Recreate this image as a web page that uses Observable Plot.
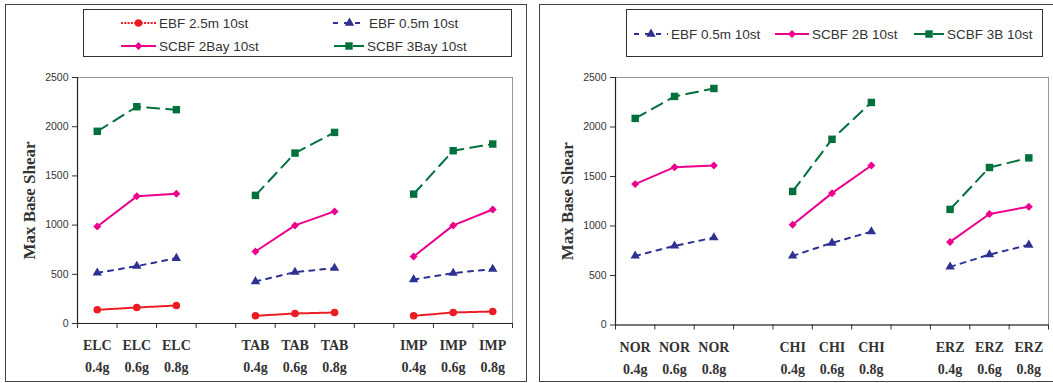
<!DOCTYPE html>
<html><head><meta charset="utf-8">
<script src="https://cdn.jsdelivr.net/npm/d3@7"></script>
<script src="https://cdn.jsdelivr.net/npm/@observablehq/plot@0.6"></script>
<style>
html,body{margin:0;padding:0;background:#fff;}
body{width:1053px;height:383px;overflow:hidden;position:relative;font-family:"Liberation Sans",Arial,sans-serif;}
.chart{position:absolute;top:0;}
.panel{position:absolute;border:1.5px solid #444;box-sizing:border-box;pointer-events:none;z-index:5;}
.legend{position:absolute;border:1px solid #333;box-sizing:border-box;background:#fff;z-index:6;}
.item{position:absolute;height:16px;display:flex;align-items:center;white-space:nowrap;font-size:13.5px;color:#333;}
.item svg{display:block;overflow:visible;}
.item span{margin-left:3px;}
g[aria-label="ylabel"] text{letter-spacing:0.7px;}
</style></head><body>
<div id="leftChart" class="chart" style="left:0"></div>
<div id="rightChart" class="chart" style="left:530px"></div>
<div class="panel" style="left:5px;top:4px;width:522px;height:378px"></div>
<div class="panel" style="left:539px;top:4px;width:530px;height:378px"></div>
<script>
// ---- data ----
const leftEvents = ["ELC", "TAB", "IMP"];
const rightEvents = ["NOR", "CHI", "ERZ"];
const pgaLevels = ["0.4g", "0.6g", "0.8g"];
const yTicks = [0, 500, 1000, 1500, 2000, 2500];

const leftEBF25 = [139, 163, 183, 78, 102, 112, 78, 112, 122];
const leftEBF05 = [515, 583, 664, 427, 522, 563, 447, 512, 553];
const leftSCBF2 = [986, 1292, 1319, 732, 997, 1139, 681, 997, 1159];
const leftSCBF3 = [1953, 2203, 2173, 1302, 1732, 1942, 1315, 1756, 1824];

const rightEBF05 = [698, 799, 883, 698, 829, 943, 587, 711, 809];
const rightSCBF2 = [1423, 1594, 1611, 1013, 1332, 1611, 839, 1121, 1195];
const rightSCBF3 = [2087, 2309, 2389, 1349, 1876, 2248, 1168, 1591, 1688];

const leftNames = ["EBF 2.5m 10st", "EBF 0.5m 10st", "SCBF 2Bay 10st", "SCBF 3Bay 10st"];
const rightNames = ["EBF 0.5m 10st", "SCBF 2B 10st", "SCBF 3B 10st"];

// ---- styles ----
const styles = {
  ebf25: {color: "#ED1C24", dash: "2,1.3", symbol: "circle", r: 3.8},
  ebf05: {color: "#2E3192", dash: "5,6", symbol: "triangle", r: 3.5},
  scbf2: {color: "#EC008C", dash: null, symbol: "diamond2", r: 3.6},
  scbf3: {color: "#00703C", dash: "12,7", symbol: "square", r: 4.2}
};
const serif = "'Liberation Serif','Times New Roman',serif";
const sans = "'Liberation Sans',Arial,sans-serif";

function rowsFor(values, events) {
  return values.map((v, i) => {
    const g = Math.floor(i / 3), j = i % 3;
    return {event: events[g], pga: pgaLevels[j], slot: g * 4 + j + 0.5, value: v};
  });
}

function panel({events, series, width, marginLeft, marginRight, marginBottom}) {
  const slots = d3.range(9).map(i => Math.floor(i / 3) * 4 + (i % 3) + 0.5);
  const marks = [
    Plot.frame({stroke: "#999", strokeWidth: 1}),
    Plot.axisY({ticks: yTicks, tickSize: 5, tickPadding: 4, fontSize: 10.5, fontFamily: sans, label: null, tickFormat: d => String(d)}),
    Plot.axisX({ticks: d3.range(12), tickSize: 5, tickFormat: () => "", label: null}),
    Plot.axisX({ticks: slots, tickSize: 0, tickPadding: 17, label: null,
      tickFormat: d => events[Math.floor(d / 4)], fontWeight: "bold", fontFamily: serif, fontSize: 14}),
    Plot.axisX({ticks: slots, tickSize: 0, tickPadding: 39, label: null,
      tickFormat: d => pgaLevels[Math.floor(d) % 4], fontWeight: "bold", fontFamily: serif, fontSize: 14}),
    Plot.ruleX([0], {stroke: "#222", strokeWidth: 1.2}),
    Plot.ruleY([0], {stroke: "#222", strokeWidth: 1.2})
  ];
  for (const s of series) {
    const data = rowsFor(s.values, events);
    const st = styles[s.key];
    marks.push(Plot.line(data, {x: "slot", y: "value", z: "event", stroke: st.color, strokeWidth: 2,
      strokeDasharray: st.dash || undefined}));
  }
  for (const s of series) {
    const data = rowsFor(s.values, events);
    const st = styles[s.key];
    marks.push(Plot.dot(data, {x: "slot", y: "value", symbol: st.symbol, r: st.r, fill: st.color, stroke: "none"}));
  }
  marks.push(Plot.text(["Max Base Shear"], {frameAnchor: "left", rotate: -90, dx: -48, textAnchor: "middle",
    lineAnchor: "middle", fontWeight: "bold", fontFamily: serif, fontSize: 17, fill: "#333", ariaLabel: "ylabel"}));
  return Plot.plot({
    width, height: 383, marginTop: 77, marginBottom, marginLeft, marginRight,
    x: {domain: [0, 11]},
    y: {domain: [0, 2500]},
    style: {background: "transparent", color: "#333", fontFamily: sans, overflow: "visible"},
    marks
  });
}

document.getElementById("leftChart").append(panel({
  events: leftEvents, width: 527, marginLeft: 77, marginRight: 15, marginBottom: 60,
  series: [
    {key: "ebf25", values: leftEBF25},
    {key: "ebf05", values: leftEBF05},
    {key: "scbf2", values: leftSCBF2},
    {key: "scbf3", values: leftSCBF3}
  ]
}));
document.getElementById("rightChart").append(panel({
  events: rightEvents, width: 523, marginLeft: 85, marginRight: 5, marginBottom: 58.5,
  series: [
    {key: "ebf05", values: rightEBF05},
    {key: "scbf2", values: rightSCBF2},
    {key: "scbf3", values: rightSCBF3}
  ]
}));

// ---- legends ----
function legend(box, items) {
  const div = document.createElement("div");
  div.className = "legend";
  Object.assign(div.style, {left: box.left + "px", top: box.top + "px", width: box.width + "px", height: box.height + "px"});
  for (const it of items) {
    const st = styles[it.key];
    const item = document.createElement("div");
    item.className = "item";
    item.style.left = it.x + "px";
    item.style.top = (it.y - 8) + "px";
    const svg = d3.create("svg").attr("width", it.w).attr("height", 12);
    svg.append("line").attr("x1", 0).attr("x2", it.w).attr("y1", 6).attr("y2", 6)
      .attr("stroke", st.color).attr("stroke-width", 2).attr("stroke-dasharray", st.dash);
    const symMap = {circle: d3.symbolCircle, triangle: d3.symbolTriangle, diamond2: d3.symbolDiamond2, square: d3.symbolSquare};
    svg.append("path").attr("transform", `translate(${it.w / 2},6)`)
      .attr("d", d3.symbol(symMap[st.symbol], Math.PI * st.r * st.r)()).attr("fill", st.color);
    item.append(svg.node());
    const span = document.createElement("span");
    span.textContent = it.label;
    item.append(span);
    div.append(item);
  }
  document.body.append(div);
}
legend({left: 83, top: 9, width: 429, height: 48}, [
  {key: "ebf25", label: leftNames[0], x: 37, y: 13, w: 35},
  {key: "ebf05", label: leftNames[1], x: 249, y: 13, w: 33},
  {key: "scbf2", label: leftNames[2], x: 37, y: 36, w: 35},
  {key: "scbf3", label: leftNames[3], x: 250, y: 36, w: 30}
]);
legend({left: 626, top: 9, width: 417, height: 48}, [
  {key: "ebf05", label: rightNames[0], x: 7, y: 24, w: 34},
  {key: "scbf2", label: rightNames[1], x: 148, y: 24, w: 34},
  {key: "scbf3", label: rightNames[2], x: 287, y: 24, w: 30}
]);
</script>
</body></html>
